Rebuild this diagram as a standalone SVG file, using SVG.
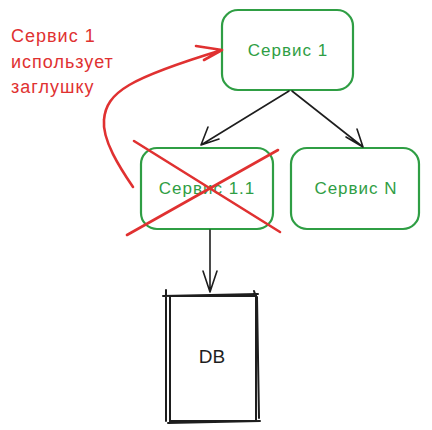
<svg xmlns="http://www.w3.org/2000/svg" width="432" height="430" viewBox="0 0 432 430">
<style>
.box{fill:#fff;stroke:#2f9e44;stroke-width:2.2}
.gt{fill:#2f9e44;font-family:"Liberation Sans","DejaVu Sans",sans-serif;font-size:17px;letter-spacing:1px;text-anchor:middle}
.rt{fill:#e03131;font-family:"Liberation Sans","DejaVu Sans",sans-serif;font-size:18px;letter-spacing:1px}
.con{fill:none;stroke:#1e1e1e;stroke-width:1.6;stroke-linecap:round}
.red{fill:none;stroke:#e03131;stroke-width:2.6;stroke-linecap:round}
.db{fill:none;stroke:#1e1e1e;stroke-width:2;stroke-linecap:round}
</style>
<rect width="432" height="430" fill="#fff"/>
<g id="note">
<text class="rt" x="11" y="42">Сервис 1</text>
<text class="rt" x="11" y="68">использует</text>
<text class="rt" x="11" y="93">заглушку</text>
</g>
<g id="svc1">
<rect class="box" x="222" y="10" width="131" height="80" rx="16"/>
<text class="gt" x="288" y="56">Сервис 1</text>
</g>
<g id="svc11">
<rect class="box" x="141" y="148" width="132" height="81" rx="16"/>
<text class="gt" x="207" y="194">Сервис 1.1</text>
</g>
<g id="svcN">
<rect class="box" x="291" y="148" width="128" height="81" rx="16"/>
<text class="gt" x="356" y="194">Сервис N</text>
</g>
<g id="db">
<rect class="db" x="170" y="296" width="86" height="125"/>
<path class="db" d="M166 290 L166 421 M163 296 L258 294 M257 297 L259 418 M168 423 L260 421 M254 291 L257 300"/>
<text x="212" y="363" text-anchor="middle" font-family="Liberation Sans,DejaVu Sans,sans-serif" font-size="19" fill="#1e1e1e">DB</text>
</g>
<g id="connectors">
<path class="con" d="M289 91 L201 145 M201 145 L208 127 M201 145 L219 139"/>
<path class="con" d="M292 91 L363 147 M363 147 L346 137 M363 147 L357 129"/>
<path class="con" d="M210 230 L210 292 M210 292 L203 271 M210 292 L217 271"/>
<path class="red" d="M133 187 C120 168 102 140 104 120 C106 92 130 78 222 50 M222 50 L196 46 M222 50 L204 60"/>
<path class="red" d="M134 141 L280 232 M278 150 L127 235"/>
</g>
</svg>
